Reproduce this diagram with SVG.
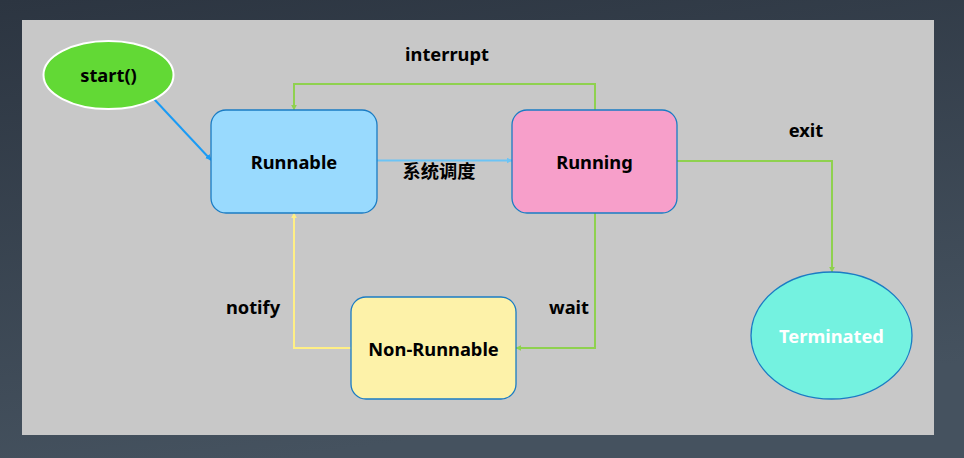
<svg xmlns="http://www.w3.org/2000/svg" width="964" height="458" viewBox="0 0 964 458">
<defs>
<linearGradient id="bg" x1="0" y1="0" x2="0.3" y2="1">
<stop offset="0" stop-color="#2c3541"/>
<stop offset="1" stop-color="#45525f"/>
</linearGradient>
<marker id="aBlue" viewBox="0 0 10 10" refX="9" refY="5" markerWidth="6" markerHeight="6" markerUnits="userSpaceOnUse" orient="auto"><path d="M0,0 L10,5 L0,10 z" fill="#1a9bf5"/></marker>
<marker id="aLBlue" viewBox="0 0 10 10" refX="9" refY="5" markerWidth="6" markerHeight="6" markerUnits="userSpaceOnUse" orient="auto"><path d="M0,0 L10,5 L0,10 z" fill="#6cc4f5"/></marker>
<marker id="aGreen" viewBox="0 0 10 10" refX="9" refY="5" markerWidth="6" markerHeight="6" markerUnits="userSpaceOnUse" orient="auto"><path d="M0,0 L10,5 L0,10 z" fill="#8fd14f"/></marker>
<marker id="aYellow" viewBox="0 0 10 10" refX="9" refY="5" markerWidth="6" markerHeight="6" markerUnits="userSpaceOnUse" orient="auto"><path d="M0,0 L10,5 L0,10 z" fill="#ffef85"/></marker>
</defs>
<style>
.t{font-family:"Noto Sans","Noto Sans CJK SC",sans-serif;font-weight:bold;font-size:18.3px;fill:#000;text-anchor:middle;dominant-baseline:central}
.box{stroke:#1a7cc4;stroke-width:1.3}
.c{fill:none;stroke-width:2}
</style>
<rect width="964" height="458" fill="url(#bg)"/>
<rect x="22" y="20" width="912" height="415" fill="#c8c8c8"/>
<g id="connectors">
<line class="c" x1="154" y1="99" x2="211" y2="160" stroke="#1a9bf5" marker-end="url(#aBlue)"/>
<line class="c" x1="377" y1="160.5" x2="512" y2="160.5" stroke="#6cc4f5" marker-end="url(#aLBlue)"/>
<polyline class="c" points="595,110 595,84 294,84 294,110" stroke="#8fd14f" marker-end="url(#aGreen)"/>
<polyline class="c" points="677,161 832,161 832,272" stroke="#8fd14f" marker-end="url(#aGreen)"/>
<polyline class="c" points="595,213 595,348 516,348" stroke="#8fd14f" marker-end="url(#aGreen)"/>
<polyline class="c" points="351,348 294,348 294,213" stroke="#ffef85" marker-end="url(#aYellow)"/>
<text class="t" x="447" y="53">interrupt</text>
<text class="t" x="439" y="170">系统调度</text>
<text class="t" x="806" y="129">exit</text>
<text class="t" x="569" y="306">wait</text>
<text class="t" x="253" y="306">notify</text>
</g>
<g id="start">
<ellipse cx="108.5" cy="75" rx="65" ry="34" fill="#62d935" stroke="#ffffff" stroke-width="2"/>
<text class="t" x="108.5" y="74">start()</text>
</g>
<g id="runnable">
<rect class="box" x="211" y="110" width="166" height="103" rx="15" fill="#99dafe"/>
<text class="t" x="294" y="161">Runnable</text>
</g>
<g id="running">
<rect class="box" x="512" y="110" width="165" height="103" rx="15" fill="#f79fca"/>
<text class="t" x="594.5" y="161">Running</text>
</g>
<g id="nonrunnable">
<rect class="box" x="351" y="297" width="165" height="102" rx="15" fill="#fdf2a9"/>
<text class="t" x="433.5" y="348">Non-Runnable</text>
</g>
<g id="terminated">
<ellipse class="box" cx="831.5" cy="335.5" rx="80.5" ry="63.5" fill="#74f2e0"/>
<text class="t" x="831.5" y="335" style="fill:#ffffff">Terminated</text>
</g>
</svg>
